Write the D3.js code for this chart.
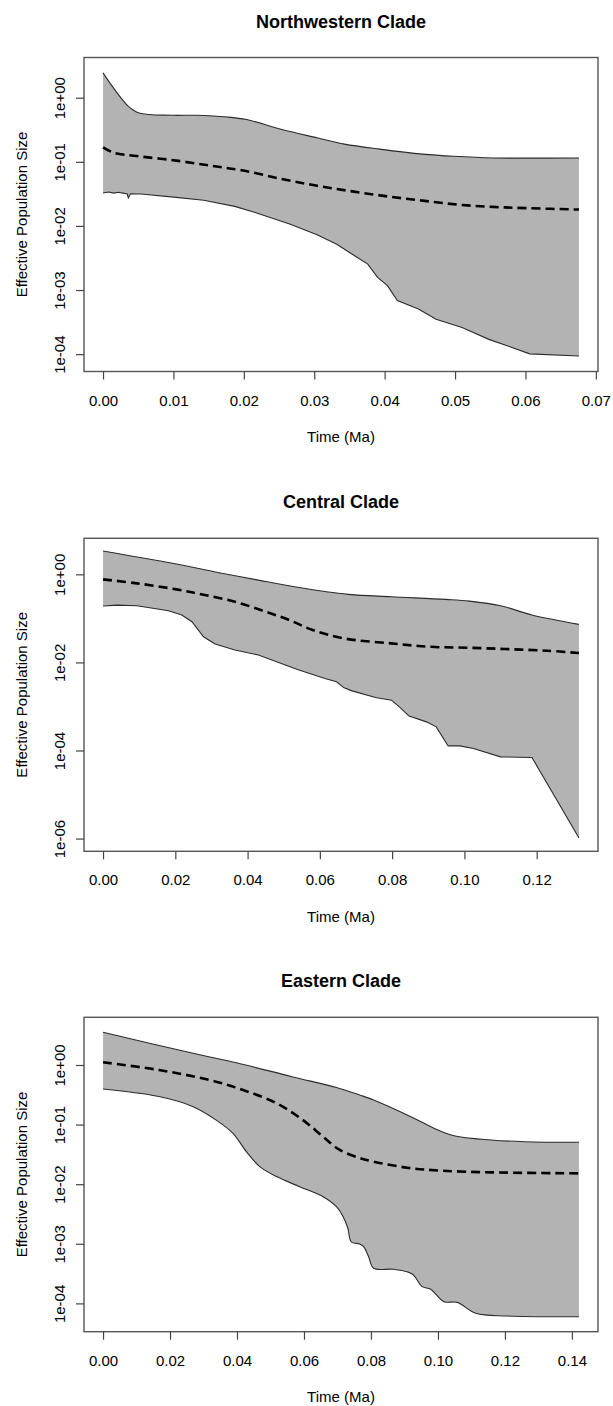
<!DOCTYPE html>
<html><head><meta charset="utf-8">
<script src="https://cdn.jsdelivr.net/npm/d3@7"></script>
<style>
body{margin:0;background:#fff}
text{font-family:"Liberation Sans",Arial,Helvetica,sans-serif;fill:#000}
</style>
</head><body>
<svg id="chart" width="613" height="1406"></svg>
<script>
// ---------------- Northwestern Clade ----------------
const nwUpperTime = [0, 0.0015, 0.0036, 0.0051, 0.0098, 0.0131, 0.0176, 0.0204, 0.0254, 0.0304, 0.0343, 0.0393, 0.0454, 0.0498, 0.0554, 0.0676];
const nwUpperNe   = [2.44, 1.41, 0.733, 0.578, 0.532, 0.532, 0.501, 0.456, 0.319, 0.237, 0.189, 0.158, 0.132, 0.122, 0.115, 0.115];
const nwMedianTime = [0, 0.0015, 0.0048, 0.0104, 0.0154, 0.0199, 0.0254, 0.0304, 0.0354, 0.0404, 0.0454, 0.0504, 0.0554, 0.0604, 0.0676];
const nwMedianNe   = [0.168, 0.139, 0.123, 0.1045, 0.0865, 0.0731, 0.0538, 0.0424, 0.0346, 0.0289, 0.0248, 0.0215, 0.0198, 0.0189, 0.018];
const nwLowerTime = [0, 0.0008, 0.0015, 0.0022, 0.003, 0.0034, 0.0036, 0.0039, 0.0054, 0.0104, 0.0143, 0.0187, 0.0215, 0.0265, 0.0304, 0.0332, 0.0354, 0.0376, 0.039, 0.0404, 0.0418, 0.0448, 0.0473, 0.051, 0.0548, 0.0576, 0.0606, 0.0676];
const nwLowerNe   = [0.0327, 0.0338, 0.0325, 0.0335, 0.0322, 0.0318, 0.0275, 0.0318, 0.0315, 0.0279, 0.0251, 0.0202, 0.0163, 0.0107, 0.00731, 0.00518, 0.00362, 0.00254, 0.00158, 0.00117, 0.000685, 0.000505, 0.00035, 0.00026, 0.00017, 0.000133, 0.000101, 0.0000935];
const nwXTicks = [0, 0.01, 0.02, 0.03, 0.04, 0.05, 0.06, 0.07];
const nwYTicks = [1e-4, 1e-3, 1e-2, 1e-1, 1e0];
const nwYLimits = [5.36e-5, 4.24];

// ---------------- Central Clade ----------------
const ctUpperTime = [0, 0.0192, 0.0321, 0.0419, 0.0538, 0.0679, 0.0798, 0.0949, 0.1014, 0.11, 0.1187, 0.1317];
const ctUpperNe   = [3.39, 1.78, 1.09, 0.769, 0.507, 0.351, 0.31, 0.27, 0.247, 0.194, 0.119, 0.0731];
const ctMedianTime = [0, 0.0094, 0.0203, 0.0278, 0.0365, 0.0451, 0.0516, 0.058, 0.0667, 0.0798, 0.0906, 0.1014, 0.1122, 0.123, 0.1317];
const ctMedianNe   = [0.769, 0.624, 0.456, 0.344, 0.239, 0.141, 0.0914, 0.0542, 0.0351, 0.027, 0.0226, 0.0215, 0.02, 0.0184, 0.0163];
const ctLowerTime = [0, 0.004, 0.0094, 0.0181, 0.0218, 0.0246, 0.0278, 0.031, 0.0365, 0.043, 0.0538, 0.0614, 0.0646, 0.0667, 0.0689, 0.0754, 0.0798, 0.082, 0.0847, 0.0895, 0.0922, 0.0955, 0.0987, 0.1025, 0.11, 0.1187, 0.1317];
const ctLowerNe   = [0.191, 0.2, 0.194, 0.149, 0.119, 0.0838, 0.0382, 0.0261, 0.0191, 0.0147, 0.00693, 0.00433, 0.00362, 0.00265, 0.00226, 0.0016, 0.00139, 0.00098, 0.000603, 0.000447, 0.000344, 0.000127, 0.000127, 0.000111, 0.0000716, 0.0000693, 0.00000103];
const ctXTicks = [0, 0.02, 0.04, 0.06, 0.08, 0.10, 0.12];
const ctYTicks = [1e-6, 1e-4, 1e-2, 1e0];
const ctYLimits = [5.14e-7, 6.58];

// ---------------- Eastern Clade ----------------
const eaUpperTime = [0, 0.0269, 0.0398, 0.0567, 0.0697, 0.0766, 0.0808, 0.0858, 0.0908, 0.0948, 0.0988, 0.1048, 0.1158, 0.1258, 0.1421];
const eaUpperNe   = [3.54, 1.57, 1.09, 0.63, 0.42, 0.314, 0.259, 0.195, 0.145, 0.113, 0.0867, 0.0651, 0.0552, 0.0516, 0.0505];
const eaMedianTime = [0, 0.0167, 0.0318, 0.0418, 0.0518, 0.0597, 0.0657, 0.0707, 0.0766, 0.0808, 0.0908, 0.1008, 0.1158, 0.1421];
const eaMedianNe   = [1.11, 0.824, 0.56, 0.381, 0.228, 0.119, 0.0627, 0.0375, 0.0275, 0.0239, 0.0189, 0.0169, 0.0158, 0.0152];
const eaLowerTime = [0, 0.0167, 0.0269, 0.0338, 0.0388, 0.0428, 0.0468, 0.0518, 0.0587, 0.0657, 0.0697, 0.0717, 0.0731, 0.0741, 0.0766, 0.0778, 0.0793, 0.0808, 0.0868, 0.0923, 0.0953, 0.0978, 0.1018, 0.1058, 0.1113, 0.1208, 0.1421];
const eaLowerNe   = [0.395, 0.295, 0.2, 0.119, 0.0714, 0.0352, 0.0197, 0.0134, 0.00908, 0.00617, 0.00419, 0.00285, 0.00182, 0.00108, 0.00099, 0.000893, 0.000608, 0.000388, 0.000373, 0.000311, 0.000191, 0.000173, 0.000107, 0.000104, 0.0000682, 0.0000615, 0.0000598];
const eaXTicks = [0, 0.02, 0.04, 0.06, 0.08, 0.10, 0.12, 0.14];
const eaYTicks = [1e-4, 1e-3, 1e-2, 1e-1, 1e0];
const eaYLimits = [3.35e-5, 6.31];

const titles = ["Northwestern Clade", "Central Clade", "Eastern Clade"];

// ---------------- drawing ----------------
const panels = [
  {title: titles[0], uT: nwUpperTime, uN: nwUpperNe, mT: nwMedianTime, mN: nwMedianNe, lT: nwLowerTime, lN: nwLowerNe, xt: nwXTicks, yt: nwYTicks, yl: nwYLimits},
  {title: titles[1], uT: ctUpperTime, uN: ctUpperNe, mT: ctMedianTime, mN: ctMedianNe, lT: ctLowerTime, lN: ctLowerNe, xt: ctXTicks, yt: ctYTicks, yl: ctYLimits},
  {title: titles[2], uT: eaUpperTime, uN: eaUpperNe, mT: eaMedianTime, mN: eaMedianNe, lT: eaLowerTime, lN: eaLowerNe, xt: eaXTicks, yt: eaYTicks, yl: eaYLimits}
];
const boxes = [{top: 57.5, bottom: 371.5}, {top: 538.3, bottom: 851.3}, {top: 1017.3, bottom: 1331.7}];
const boxL = 84, boxR = 598;
const svg = d3.select("#chart");

const fmtY = v => {
  const e = Math.round(Math.log10(v));
  return "1e" + (e < 0 ? "-" : "+") + String(Math.abs(e)).padStart(2, "0");
};
const zip = (a, b) => a.map((v, i) => [v, b[i]]);

panels.forEach((p, i) => {
  const B = boxes[i];
  const g = svg.append("g");
  const allT = [...p.uT, ...p.mT, ...p.lT];
  const [t0, t1] = d3.extent(allT);
  const pt = (t1 - t0) * 0.04;
  const x = d3.scaleLinear().domain([t0 - pt, t1 + pt]).range([boxL, boxR]);
  const y = d3.scaleLog().domain(p.yl).range([B.bottom, B.top]);

  const smooth = d3.line().x(d => x(d[0])).y(d => y(d[1])).curve(d3.curveCatmullRom.alpha(0.5));
  const lin = d3.line().x(d => x(d[0])).y(d => y(d[1]));
  const loGen = i === 2 ? smooth : lin;

  const up = zip(p.uT, p.uN), md = zip(p.mT, p.mN), lo = zip(p.lT, p.lN);
  const upPath = smooth(up);
  const loRevPath = loGen(lo.slice().reverse());
  g.append("path").attr("d", upPath + "L" + loRevPath.slice(1) + "Z")
    .attr("fill", "#b3b3b3").attr("stroke", "none");
  g.append("path").attr("d", upPath).attr("fill", "none").attr("stroke", "#2b2b2b").attr("stroke-width", 1.1);
  g.append("path").attr("d", loGen(lo)).attr("fill", "none").attr("stroke", "#2b2b2b").attr("stroke-width", 1.1);
  g.append("path").attr("d", smooth(md)).attr("fill", "none").attr("stroke", "#000")
    .attr("stroke-width", 2.6).attr("stroke-dasharray", "9,5");

  // box
  g.append("rect").attr("x", boxL).attr("y", B.top).attr("width", boxR - boxL).attr("height", B.bottom - B.top)
    .attr("fill", "none").attr("stroke", "#555").attr("stroke-width", 1.4);

  // x axis
  const xa = g.append("g").attr("transform", `translate(0,${B.bottom})`)
    .call(d3.axisBottom(x).tickValues(p.xt).tickSize(8).tickFormat(d3.format(".2f")));
  xa.select(".domain").remove();
  xa.selectAll(".tick line").attr("stroke", "#444").attr("stroke-width", 1.2);
  xa.selectAll(".tick text").attr("y", 34).attr("dy", 0).style("font-size", "15px")
    .style("font-family", '"Liberation Sans",Arial,sans-serif').attr("fill", "#111");

  // y axis
  const ya = g.append("g").attr("transform", `translate(${boxL},0)`)
    .call(d3.axisLeft(y).tickValues(p.yt).tickSize(8).tickFormat(fmtY));
  ya.select(".domain").remove();
  ya.selectAll(".tick line").attr("stroke", "#444").attr("stroke-width", 1.2);
  ya.selectAll(".tick text").attr("x", 0).attr("y", 0).attr("dy", 0)
    .attr("text-anchor", "middle").attr("transform", "translate(-19,0) rotate(-90)")
    .style("font-size", "15px").style("font-family", '"Liberation Sans",Arial,sans-serif').attr("fill", "#111");

  // title and labels
  const cx = (boxL + boxR) / 2;
  g.append("text").attr("x", cx).attr("y", B.top - 30).attr("text-anchor", "middle")
    .style("font-size", "18px").style("font-weight", "bold").text(p.title);
  g.append("text").attr("x", cx).attr("y", B.bottom + 70.5).attr("text-anchor", "middle")
    .style("font-size", "15px").attr("fill", "#111").text("Time (Ma)");
  g.append("text").attr("transform", `translate(26.5,${(B.top + B.bottom) / 2}) rotate(-90)`)
    .attr("text-anchor", "middle").style("font-size", "15px").attr("fill", "#111").text("Effective Population Size");
});
</script>
</body></html>
